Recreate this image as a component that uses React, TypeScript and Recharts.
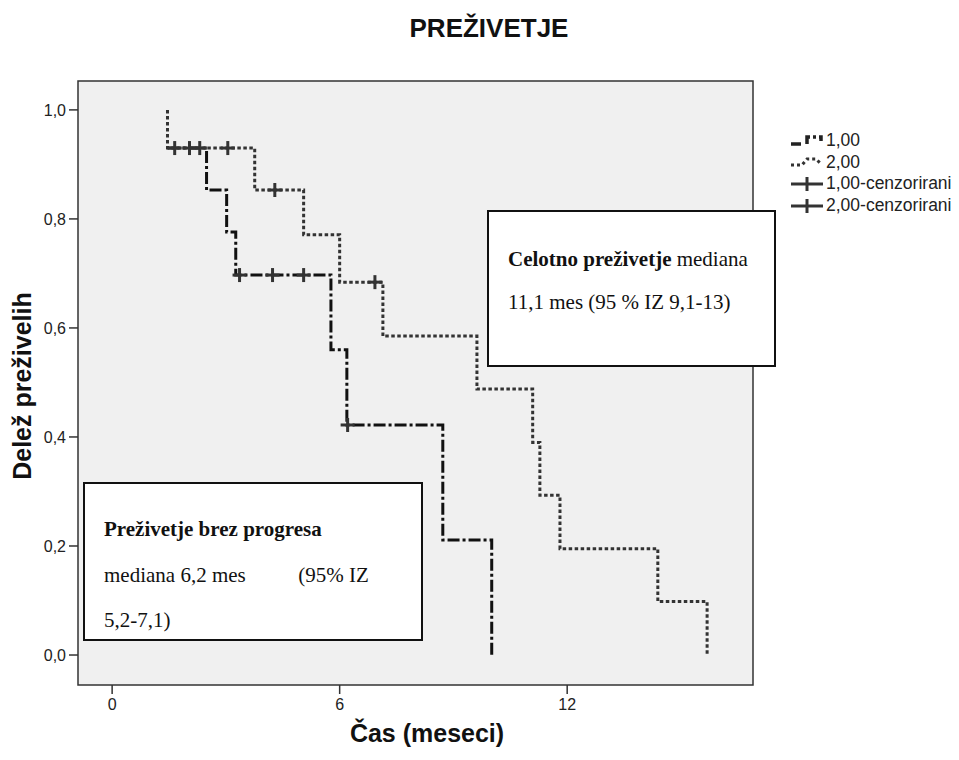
import React from 'react';
import {
  ComposedChart,
  Line,
  Scatter,
  XAxis,
  YAxis,
  ReferenceArea,
} from 'recharts';

// Kaplan-Meier steps, group 1,00 (dash-dot)
const g1Times = [1.46, 2.49, 3.02, 3.26, 5.77, 6.19, 8.72, 10.01];
const g1Surv = [0.93, 0.853, 0.776, 0.697, 0.56, 0.422, 0.211, 0];

// group 2,00 (dotted)
const g2Times = [1.46, 1.46, 3.76, 5.05, 6.0, 7.14, 9.62, 11.09, 11.28, 11.81, 14.39, 15.69];
const g2Surv = [1.0, 0.93, 0.853, 0.771, 0.684, 0.585, 0.488, 0.39, 0.293, 0.195, 0.098, 0];

// censored cases
const g1CensTimes = [1.65, 2.04, 3.36, 4.23, 5.05, 6.21];
const g1CensSurv = [0.93, 0.93, 0.697, 0.697, 0.697, 0.422];
const g2CensTimes = [2.31, 3.05, 4.29, 6.93];
const g2CensSurv = [0.93, 0.93, 0.853, 0.684];

const xTicks = [0, 6, 12];
const yTicks = [0, 0.2, 0.4, 0.6, 0.8, 1.0];
const legendLabels = ['1,00', '2,00', '1,00-cenzorirani', '2,00-cenzorirani'];

const zip = (ts: number[], ss: number[]) => ts.map((t, i) => ({ t, s: ss[i] }));

const g1 = zip(g1Times, g1Surv);
const g2 = zip(g2Times, g2Surv);
const g1Cens = zip(g1CensTimes, g1CensSurv);
const g2Cens = zip(g2CensTimes, g2CensSurv);

const sans = 'Arial, "Liberation Sans", sans-serif';
const serif = '"Times New Roman", "Liberation Serif", serif';
const ink = '#222';

function CensorMark(props: any) {
  const { cx, cy } = props;
  return (
    <g stroke="#333" strokeWidth={3}>
      <line x1={cx - 7} x2={cx + 7} y1={cy} y2={cy} />
      <line x1={cx} x2={cx} y1={cy - 7} y2={cy + 7} />
    </g>
  );
}

function LegendSample({ kind }: { kind: number }) {
  return (
    <svg width={34} height={16} style={{ display: 'block' }}>
      {kind === 0 && (
        <path d="M1,11 H14 M17,11 V4 H31 V8" fill="none" stroke="#222" strokeWidth={3.5} strokeDasharray="10 3 3 3" />
      )}
      {kind === 1 && (
        <path d="M1,11 H12 L17,5 H26 L30,9" fill="none" stroke="#333" strokeWidth={3} strokeDasharray="3 3" />
      )}
      {kind >= 2 && (
        <g stroke="#333" strokeWidth={3}>
          <line x1={1} x2={33} y1={8} y2={8} />
          <line x1={17} x2={17} y1={1} y2={15} />
        </g>
      )}
    </svg>
  );
}

export default function App() {
  const box = {
    position: 'absolute' as const,
    background: '#fff',
    border: '2px solid #111',
    boxSizing: 'border-box' as const,
    fontFamily: serif,
    fontSize: 21,
    color: '#111',
  };
  const line = (top: number) => ({
    position: 'absolute' as const,
    left: 19,
    top,
    whiteSpace: 'pre' as const,
    lineHeight: '24px',
  });

  return (
    <div style={{ position: 'absolute', left: 0, top: 0, width: 959, height: 760, background: '#fff', fontFamily: sans }}>
      <ComposedChart
        width={959}
        height={760}
        margin={{ top: 81, right: 206, bottom: 45, left: 18 }}
      >
        <ReferenceArea
          x1={-0.9}
          x2={16.9}
          y1={-0.055}
          y2={1.053}
          fill="#f0f0f0"
          fillOpacity={1}
          stroke="#333"
          strokeWidth={1.5}
        />
        <XAxis
          dataKey="t"
          type="number"
          domain={[-0.9, 16.9]}
          ticks={xTicks}
          allowDataOverflow
          axisLine={false}
          tickLine={{ stroke: '#333', strokeWidth: 1.5 }}
          tickSize={9}
          tickMargin={5}
          height={30}
          tick={{ fill: ink, fontSize: 16, fontFamily: sans }}
        />
        <YAxis
          dataKey="s"
          type="number"
          domain={[-0.055, 1.053]}
          ticks={yTicks}
          allowDataOverflow
          axisLine={false}
          tickLine={{ stroke: '#333', strokeWidth: 1.5 }}
          tickSize={9}
          tickMargin={3}
          width={60}
          tick={{ fill: ink, fontSize: 16, fontFamily: sans }}
          tickFormatter={(v: number) => v.toFixed(1).replace('.', ',')}
        />
        <Line
          data={g1}
          dataKey="s"
          type="stepAfter"
          stroke="#111"
          strokeWidth={3}
          strokeDasharray="12 3 3 3"
          dot={false}
          isAnimationActive={false}
        />
        <Line
          data={g2}
          dataKey="s"
          type="stepAfter"
          stroke="#333"
          strokeWidth={3}
          strokeDasharray="3.5 2.5"
          dot={false}
          isAnimationActive={false}
        />
        <Scatter data={g1Cens} dataKey="s" shape={<CensorMark />} isAnimationActive={false} />
        <Scatter data={g2Cens} dataKey="s" shape={<CensorMark />} isAnimationActive={false} />
      </ComposedChart>

      {/* title and axis titles */}
      <div style={{ position: 'absolute', left: 289, width: 400, top: 13, textAlign: 'center', fontSize: 26, fontWeight: 'bold', color: '#111' }}>
        PREŽIVETJE
      </div>
      <div style={{ position: 'absolute', left: 227, width: 400, top: 719, textAlign: 'center', fontSize: 25, fontWeight: 'bold', color: '#111' }}>
        Čas (meseci)
      </div>
      <div
        style={{
          position: 'absolute',
          left: 22 - 150,
          top: 386 - 15,
          width: 300,
          height: 30,
          lineHeight: '30px',
          textAlign: 'center',
          fontSize: 25,
          fontWeight: 'bold',
          color: '#111',
          transform: 'rotate(-90deg)',
        }}
      >
        Delež preživelih
      </div>

      {/* legend */}
      {legendLabels.map((lab, i) => (
        <div key={lab} style={{ position: 'absolute', left: 790, top: 130 + i * 21.7, display: 'flex', alignItems: 'center', fontSize: 17.5, color: ink }}>
          <LegendSample kind={i} />
          <span style={{ marginLeft: 2 }}>{lab}</span>
        </div>
      ))}

      {/* annotation boxes */}
      <div style={{ ...box, left: 487, top: 210, width: 289, height: 157 }}>
        <div style={line(35)}>
          <b>Celotno preživetje</b> mediana
        </div>
        <div style={line(78)}>11,1 mes (95 % IZ 9,1-13)</div>
      </div>
      <div style={{ ...box, left: 83, top: 482, width: 340, height: 159 }}>
        <div style={line(33)}>
          <b>Preživetje brez progresa</b>
        </div>
        <div style={line(79)}>{'mediana 6,2 mes          (95% IZ'}</div>
        <div style={line(124)}>5,2-7,1)</div>
      </div>
    </div>
  );
}
